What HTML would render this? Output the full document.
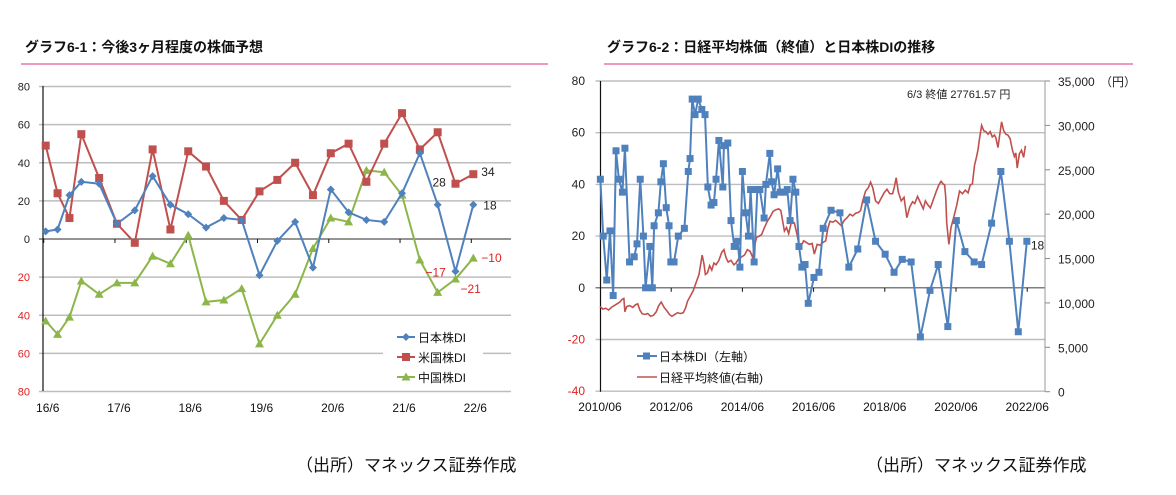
<!DOCTYPE html>
<html><head><meta charset="utf-8">
<style>
html,body{margin:0;padding:0;background:#fff;}
svg{display:block;font-family:"Liberation Sans","Noto Sans CJK JP",sans-serif;}
</style></head>
<body>
<svg id="c" width="1176" height="495" viewBox="0 0 1176 495" xmlns="http://www.w3.org/2000/svg">
  <text x="25" y="52" font-size="14" font-weight="bold" fill="#111">グラフ6-1：今後3ヶ月程度の株価予想</text>
  <line x1="21" y1="64" x2="548" y2="64" stroke="#ee99c4" stroke-width="2"/>
  <text x="607" y="52" font-size="14" font-weight="bold" fill="#111">グラフ6-2：日経平均株価（終値）と日本株DIの推移</text>
  <line x1="604" y1="64" x2="1133" y2="64" stroke="#ee99c4" stroke-width="2"/>
  <text x="296" y="471" font-size="17" fill="#111">（出所）マネックス証券作成</text>
  <text x="866" y="471" font-size="17" fill="#111">（出所）マネックス証券作成</text>
  <g id="g1"></g>
  <g id="g2"></g>
</svg>
<script>
// ---------- Chart 1 data ----------
const c1Months = [0,2,4,6,9,12,15,18,21,24,27,30,33,36,39,42,45,48,51,54,57,60,63,66,69,72];
const c1Japan = [4,5,23,30,29,8,15,33,18,13,6,11,10,-19,-1,9,-15,26,14,10,9,24,45,18,-17,18];
const c1US = [49,24,11,55,32,8,-2,47,5,46,38,20,10,25,31,40,23,45,50,30,50,66,47,56,29,34];
const c1China = [-43,-50,-41,-22,-29,-23,-23,-9,-13,2,-33,-32,-26,-55,-40,-29,-5,11,9,36,35,23,-11,-28,-21,-10];
const c1YTicks = [80,60,40,20,0,-20,-40,-60,-80];
const c1YTickText = ["80","60","40","20","0","20","40","60","80"];
const c1XTicks = [0,12,24,36,48,60,72];
const c1XTickText = ["16/6","17/6","18/6","19/6","20/6","21/6","22/6"];

// ---------- Chart 2 data ----------
const c2DIYears = [2010.51,2010.59,2010.69,2010.78,2010.87,2010.95,2011.03,2011.13,2011.20,2011.33,2011.46,2011.54,2011.63,2011.72,2011.78,2011.90,2011.97,2012.02,2012.14,2012.21,2012.28,2012.36,2012.44,2012.49,2012.58,2012.70,2012.87,2012.98,2013.03,2013.09,2013.17,2013.26,2013.36,2013.45,2013.53,2013.62,2013.70,2013.76,2013.84,2013.95,2013.98,2014.09,2014.18,2014.27,2014.37,2014.43,2014.50,2014.59,2014.67,2014.73,2014.83,2014.92,2014.99,2015.11,2015.16,2015.27,2015.32,2015.39,2015.49,2015.56,2015.67,2015.76,2015.84,2015.92,2016.00,2016.09,2016.17,2016.26,2016.35,2016.51,2016.65,2016.77,2016.99,2017.24,2017.49,2017.74,2017.99,2018.24,2018.51,2018.76,2018.99,2019.24,2019.50,2019.77,2020.00,2020.27,2020.51,2020.75,2021.01,2021.22,2021.50,2021.76,2022.00,2022.25,2022.49];
const c2DI = [42,20,3,22,-3,53,42,37,54,10,12,17,42,20,0,16,0,24,29,41,48,31,24,10,10,20,23,45,50,73,67,73,69,67,39,32,33,42,57,39,55,56,26,16,18,8,45,29,20,38,10,38,38,27,40,52,41,36,46,37,37,38,26,42,37,16,8,9,-6,4,6,23,30,29,8,15,34,18,13,6,11,10,-19,-1,9,-15,26,14,10,9,25,45,18,-17,18];
const c2NkYears = [2010.50,2010.58,2010.66,2010.74,2010.82,2010.90,2010.98,2011.06,2011.12,2011.17,2011.20,2011.25,2011.33,2011.42,2011.50,2011.56,2011.62,2011.68,2011.76,2011.84,2011.92,2012.00,2012.08,2012.15,2012.22,2012.30,2012.38,2012.45,2012.52,2012.60,2012.68,2012.76,2012.84,2012.90,2012.96,2013.04,2013.12,2013.20,2013.28,2013.37,2013.42,2013.46,2013.52,2013.58,2013.64,2013.70,2013.76,2013.84,2013.92,2013.98,2014.04,2014.10,2014.18,2014.26,2014.32,2014.40,2014.48,2014.56,2014.64,2014.72,2014.79,2014.84,2014.90,2014.96,2015.04,2015.12,2015.20,2015.28,2015.36,2015.44,2015.52,2015.58,2015.64,2015.68,2015.74,2015.80,2015.88,2015.96,2016.04,2016.10,2016.16,2016.22,2016.30,2016.38,2016.46,2016.52,2016.60,2016.68,2016.76,2016.84,2016.90,2016.96,2017.04,2017.12,2017.20,2017.28,2017.36,2017.44,2017.52,2017.60,2017.68,2017.76,2017.82,2017.88,2017.96,2018.04,2018.10,2018.16,2018.24,2018.32,2018.40,2018.48,2018.56,2018.64,2018.72,2018.77,2018.82,2018.88,2018.96,2019.04,2019.12,2019.20,2019.28,2019.34,2019.42,2019.50,2019.58,2019.64,2019.70,2019.78,2019.86,2019.94,2020.02,2020.08,2020.14,2020.18,2020.21,2020.24,2020.30,2020.36,2020.44,2020.52,2020.60,2020.68,2020.76,2020.84,2020.90,2020.96,2021.02,2021.08,2021.12,2021.16,2021.22,2021.28,2021.34,2021.40,2021.46,2021.52,2021.58,2021.62,2021.68,2021.72,2021.78,2021.84,2021.90,2021.96,2022.02,2022.08,2022.14,2022.18,2022.22,2022.28,2022.34,2022.40,2022.45];
const c2Nikkei = [9600,9300,9400,9200,9500,9700,9900,10100,10400,10500,9000,9600,9700,9500,9800,9900,9200,8800,8700,8800,8500,8600,9000,9700,10100,9500,9100,8700,8500,8700,8900,8800,8900,9400,10200,10800,11400,12300,13200,15400,14400,13200,13400,14200,13700,14500,14300,14800,15700,16000,15100,14600,14800,14300,14500,15000,15200,15400,16000,15800,15100,16400,17400,17500,17700,18500,19200,19700,20300,20500,20600,20400,19000,18100,18500,17800,19200,19000,17600,16200,16500,17000,16800,16600,16700,15500,16600,16500,16800,17000,18400,19200,19100,19300,19000,18700,19300,19600,20000,19800,20100,20200,20400,21500,22600,23000,23600,23000,21500,21200,21800,22400,22800,22300,22300,23100,24100,22500,21500,21900,19600,20800,21400,21200,22000,21300,20600,21500,21100,20700,21600,22500,23300,23700,23400,23300,22000,19000,16600,18500,19700,21000,22600,22300,22700,22400,23300,23400,25500,26500,27300,28500,30000,29400,29300,29000,29300,28700,28900,28600,27500,28700,30400,29400,29000,28900,28500,27300,26500,26900,25200,26800,27200,26400,27700];
const c2LeftTicks = [80,60,40,20,0,-20,-40];
const c2LeftTickText = ["80","60","40","20","0","-20","-40"];
const c2RightTicks = [35000,30000,25000,20000,15000,10000,5000,0];
const c2RightTickText = ["35,000","30,000","25,000","20,000","15,000","10,000","5,000","0"];
const c2XTicks = [2010.5,2012.5,2014.5,2016.5,2018.5,2020.5,2022.5];
const c2XTickText = ["2010/06","2012/06","2014/06","2016/06","2018/06","2020/06","2022/06"];

const NS = "http://www.w3.org/2000/svg";
function mk(parent, tag, attrs, text){
  const e = document.createElementNS(NS, tag);
  for (const k in attrs) e.setAttribute(k, attrs[k]);
  if (text !== undefined) e.textContent = text;
  parent.appendChild(e);
  return e;
}

// ---------- Chart 1 ----------
(function(){
  const g = document.getElementById('g1');
  const L = 43, R = 511, T = 86, B = 391;
  const x = m => 45.7 + m * (473.3 - 45.7) / 72;
  const y = v => 239 - v * (152.5 / 80);
  c1YTicks.forEach((v, i) => {
    const ln = mk(g, 'line', {x1: L - 4, x2: R, y1: y(v), y2: y(v), stroke: v === 0 ? '#555' : '#bdbdbd', 'stroke-width': v === 0 ? 1.2 : 1.4});
    
    
    const t = mk(g, 'text', {x: 30, y: y(v) + 4, 'font-size': 11, 'text-anchor': 'end', fill: v < 0 ? '#e02020' : '#222'}, c1YTickText[i]);
    
    
  });
  const ax = mk(g, 'line', {x1: L, x2: L, y1: T, y2: B, stroke: '#111', 'stroke-width': 1.2});
  
  
  c1XTicks.forEach((m, i) => {
    const tk = mk(g, 'line', {x1: x(m) - 2, x2: x(m) - 2, y1: y(0), y2: y(0) + 4, stroke: '#111'});
    
    
    const t = mk(g, 'text', {x: x(m) + 2, y: 412, 'font-size': 12, 'text-anchor': 'middle', fill: '#111'}, c1XTickText[i]);
    
    
  });
  function series(vals, color, marker, name){
    const pts = vals.map((v, i) => x(c1Months[i]) + ',' + y(v)).join(' ');
    const pl = mk(g, 'polyline', {points: pts, fill: 'none', stroke: color, 'stroke-width': 2});
    
    
    vals.forEach((v, i) => {
      const cx = x(c1Months[i]), cy = y(v);
      let m;
      if (marker === 'diamond') m = mk(g, 'polygon', {points: `${cx},${cy-4} ${cx+4},${cy} ${cx},${cy+4} ${cx-4},${cy}`, fill: color});
      else if (marker === 'square') m = mk(g, 'rect', {x: cx - 4, y: cy - 4, width: 8, height: 8, fill: color});
      else m = mk(g, 'polygon', {points: `${cx},${cy-4.5} ${cx+4.5},${cy+3.5} ${cx-4.5},${cy+3.5}`, fill: color});
      
      
    });
  }
  const lb = mk(g, 'rect', {x: 383, y: 326, width: 100, height: 62, fill: '#fff'});
  
  
  series(c1China, '#8db64a', 'tri', 'china-di');
  series(c1US, '#c0504d', 'square', 'us-di');
  series(c1Japan, '#4f81bd', 'diamond', 'japan-di');
  const n = c1Months.length - 1;
  const lbls = [
    [x(c1Months[n]) + 10, y(c1Japan[n]) + 5, String(c1Japan[n]), '#222', 'japan-last-label'],
    [x(c1Months[n]) + 8, y(c1US[n]) + 2, String(c1US[n]), '#222', 'us-last-label'],
    [x(c1Months[n-1]) - 23, y(c1US[n-1]) + 3, '28', '#222', 'us-prev-label'],
    [x(c1Months[n]) + 8, y(c1China[n]) + 4, '−10', '#e02020', 'china-last-label'],
    [x(c1Months[n-1]) + 5, y(c1China[n-1]) + 14, '−21', '#e02020', 'china-prev-label'],
    [x(c1Months[n-1]) - 30, y(c1Japan[n-1]) + 5, '−17', '#e02020', 'japan-prev-label']
  ];
  lbls.forEach(a => {
    const t = mk(g, 'text', {x: a[0], y: a[1], 'font-size': 12, fill: a[3]}, a[2]);
    
    
  });
  const leg = [['日本株DI', '#4f81bd', 'diamond', 337], ['米国株DI', '#c0504d', 'square', 357], ['中国株DI', '#8db64a', 'tri', 377]];
  leg.forEach(l => {
    const ln = mk(g, 'line', {x1: 397, x2: 415, y1: l[3], y2: l[3], stroke: l[1], 'stroke-width': 2});
    
    
    const cx = 406, cy = l[3];
    let m;
    if (l[2] === 'diamond') m = mk(g, 'polygon', {points: `${cx},${cy-4} ${cx+4},${cy} ${cx},${cy+4} ${cx-4},${cy}`, fill: l[1]});
    else if (l[2] === 'square') m = mk(g, 'rect', {x: cx - 4, y: cy - 4, width: 8, height: 8, fill: l[1]});
    else m = mk(g, 'polygon', {points: `${cx},${cy-4.5} ${cx+4.5},${cy+3.5} ${cx-4.5},${cy+3.5}`, fill: l[1]});
    
    
    const t = mk(g, 'text', {x: 418, y: l[3] + 5, 'font-size': 12, fill: '#111'}, l[0]);
    
    
  });
})();

// ---------- Chart 2 ----------
(function(){
  const g = document.getElementById('g2');
  const L = 600.5, R = 1045, T = 81, B = 391.7;
  const x = yr => 600 + (yr - 2010.5) * 35.6;
  const yl = v => 287.8 - v * (51.7 / 20);
  const yr = v => B - v * ((B - T) / 35000);
  c2LeftTicks.forEach((v, i) => {
    const ln = mk(g, 'line', {x1: L - 5, x2: R, y1: yl(v), y2: yl(v), stroke: v === 0 ? '#555' : '#bdbdbd', 'stroke-width': v === 0 ? 1.2 : 1.4});
    
    
    const t = mk(g, 'text', {x: 585, y: yl(v) + 4, 'font-size': 12, 'text-anchor': 'end', fill: v < 0 ? '#e02020' : '#222'}, c2LeftTickText[i]);
    
    
  });
  c2RightTicks.forEach((v, i) => {
    const tk = mk(g, 'line', {x1: R, x2: R + 5, y1: yr(v), y2: yr(v), stroke: '#888'});
    
    
    const t = mk(g, 'text', {x: 1058, y: yr(v) + 5, 'font-size': 12, fill: '#222'}, c2RightTickText[i]);
    
    
  });
  const unit = mk(g, 'text', {x: 1100, y: 86, 'font-size': 12, fill: '#222'}, '（円）');
  
  
  const ax = mk(g, 'line', {x1: L, x2: L, y1: T, y2: B, stroke: '#111', 'stroke-width': 1.2});
  
  
  const ax2 = mk(g, 'line', {x1: R, x2: R, y1: T, y2: B, stroke: '#999', 'stroke-width': 1});
  
  
  c2XTicks.forEach((v, i) => {
    if (i > 0) {
      const tk = mk(g, 'line', {x1: x(v), x2: x(v), y1: yl(0), y2: yl(0) + 4, stroke: '#111'});
      
      
    }
    const t = mk(g, 'text', {x: x(v), y: 411, 'font-size': 12, 'text-anchor': 'middle', fill: '#111'}, c2XTickText[i]);
    
    
  });
  const nk = mk(g, 'polyline', {points: c2Nikkei.map((v, i) => x(c2NkYears[i]) + ',' + yr(v)).join(' '), fill: 'none', stroke: '#c0504d', 'stroke-width': 1.6});
  
  
  const di = mk(g, 'polyline', {points: c2DI.map((v, i) => x(c2DIYears[i]) + ',' + yl(v)).join(' '), fill: 'none', stroke: '#4f81bd', 'stroke-width': 2});
  
  
  c2DI.forEach((v, i) => {
    const r = mk(g, 'rect', {x: x(c2DIYears[i]) - 3.5, y: yl(v) - 3.5, width: 7, height: 7, fill: '#4f81bd'});
    
    
  });
  const last = c2DI.length - 1;
  const ll = mk(g, 'text', {x: x(c2DIYears[last]) + 4, y: yl(c2DI[last]) + 8, 'font-size': 12, fill: '#222'}, String(c2DI[last]));
  
  
  const ann = mk(g, 'text', {x: 907, y: 98, 'font-size': 11, fill: '#222'}, '6/3 終値 27761.57 円');
  
  
  const sw1 = mk(g, 'line', {x1: 637, x2: 657, y1: 356, y2: 356, stroke: '#4f81bd', 'stroke-width': 2});
  
  
  const sm = mk(g, 'rect', {x: 643, y: 352.5, width: 7, height: 7, fill: '#4f81bd'});
  
  
  const t1 = mk(g, 'text', {x: 659, y: 361, 'font-size': 12, fill: '#111'}, '日本株DI（左軸）');
  
  
  const sw2 = mk(g, 'line', {x1: 637, x2: 657, y1: 377, y2: 377, stroke: '#c0504d', 'stroke-width': 1.6});
  
  
  const t2 = mk(g, 'text', {x: 659, y: 382, 'font-size': 12, fill: '#111'}, '日経平均終値(右軸)');
  
  
})();
</script>
</body></html>
